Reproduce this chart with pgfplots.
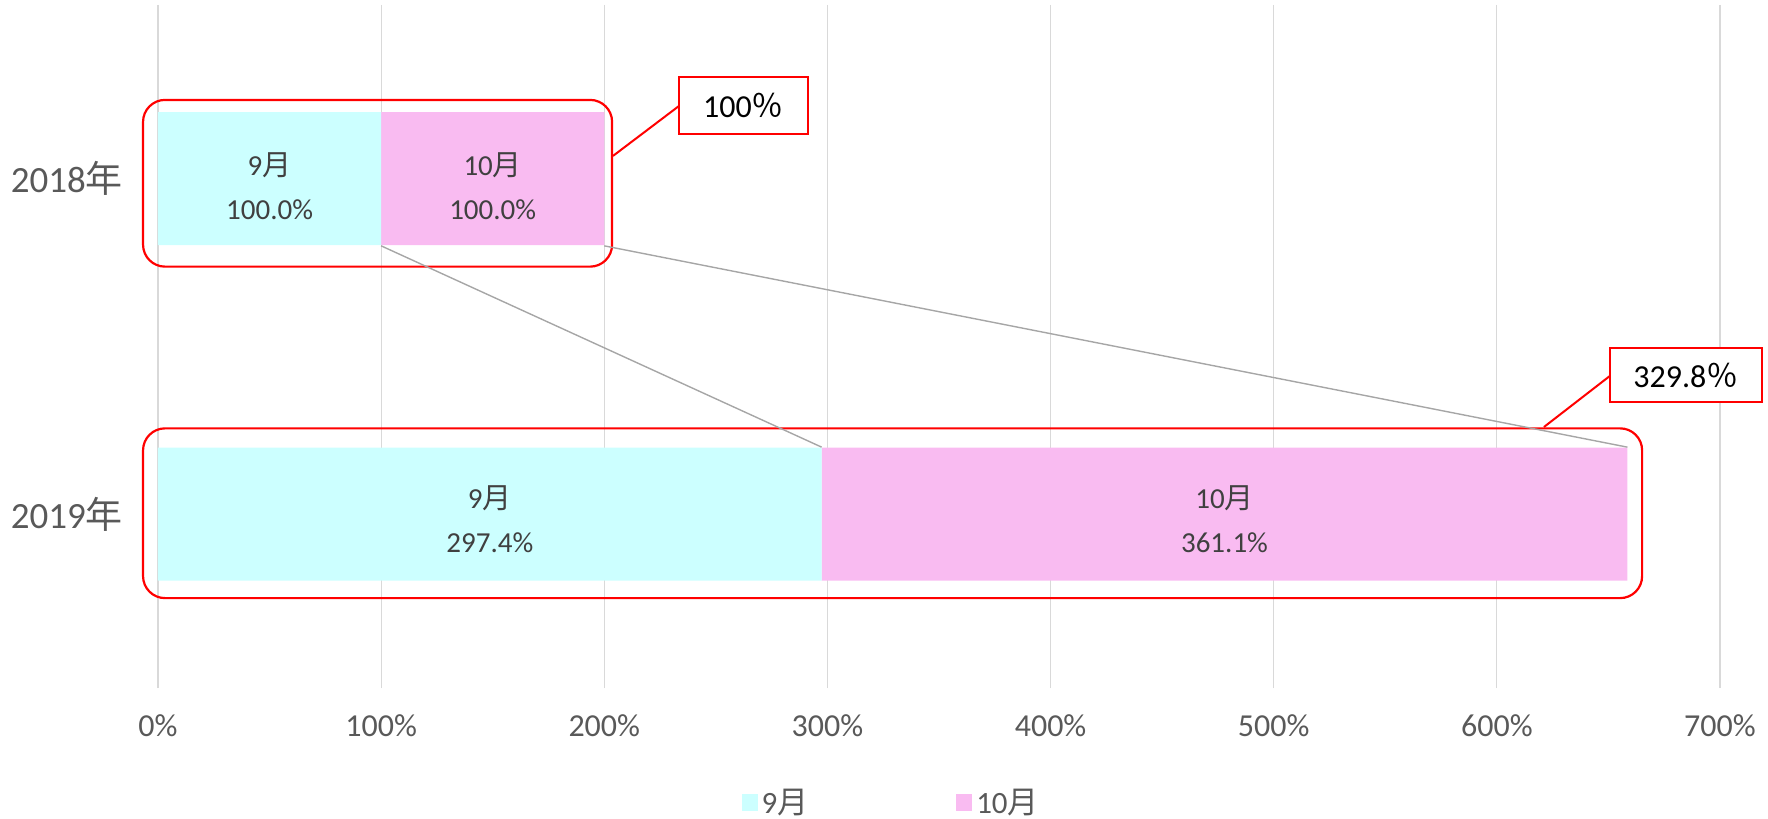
\documentclass[border=0pt]{standalone}
\usepackage{pgfplots}
\pgfplotsset{compat=1.18}
\usepackage{fontspec}
\setmainfont{Carlito}
\newfontfamily\cjk{Noto Sans CJK JP}
\definecolor{gridc}{HTML}{D9D9D9}
\definecolor{txt}{HTML}{595959}
\definecolor{lbl}{HTML}{404040}
\definecolor{sepc}{HTML}{CCFFFF}
\definecolor{octc}{HTML}{F9BBF1}
\definecolor{conn}{HTML}{A6A6A6}
\tikzset{barlbl/.style={align=center, text=lbl, font=\fontsize{14.5}{22}\selectfont}}
\begin{document}
\begin{tikzpicture}
\useasboundingbox (-79pt,-68.5pt) rectangle (805pt,341pt);
\begin{axis}[
  at={(0,0)}, anchor=south west,
  scale only axis, width=781pt, height=335.5pt,
  xbar stacked, bar width=66.5pt,
  xmin=0, xmax=700, ymin=-0.5, ymax=1.5,
  xtick={0,100,200,300,400,500,600,700},
  xticklabels={0\%,100\%,200\%,300\%,400\%,500\%,600\%,700\%},
  ytick={0,1},
  yticklabels={2019{\cjk 年},2018{\cjk 年}},
  axis line style={draw=none},
  xmajorgrids, ymajorgrids=false,
  grid style={gridc, line width=0.6pt},
  tick align=outside, major tick length=3pt,
  xtick style={gridc, line width=0.6pt},
  ytick style={draw=none},
  xticklabel style={font=\fontsize{16}{19}\selectfont, text=txt, yshift=-9.7pt},
  yticklabel style={font=\fontsize{18.5}{22}\selectfont, text=txt, xshift=-11pt},
  legend style={at={(axis description cs:0.47,-0.18)}, anchor=center, draw=none,
    legend columns=2, font=\fontsize{15.5}{18}\selectfont, text=txt,
    /tikz/every even column/.append style={column sep=72pt}},
  legend image code/.code={\fill[#1] (0pt,-4.25pt) rectangle (8pt,4.25pt);},
  clip=false,
]
\addplot[fill=sepc, draw=none] coordinates {(100,1) (297.4,0)};
\addlegendentry{9{\cjk 月}}
\addplot[fill=octc, draw=none] coordinates {(100,1) (361.1,0)};
\addlegendentry{10{\cjk 月}}
\end{axis}
\begin{axis}[
  at={(0,0)}, anchor=south west,
  scale only axis, width=781pt, height=335.5pt,
  xmin=0, xmax=700, ymin=-0.5, ymax=1.5,
  hide axis, clip=false,
]
\draw[red, line width=1.1pt, rounded corners=11pt] (axis cs:-6.7,0.738) rectangle (axis cs:203.5,1.235);
\draw[red, line width=1.1pt, rounded corners=11pt] (axis cs:-6.7,-0.25) rectangle (axis cs:665.1,0.256);
\addplot[conn, line width=0.7pt, mark=none] coordinates {(100,0.8) (297.4,0.2)};
\addplot[conn, line width=0.7pt, mark=none] coordinates {(200,0.8) (658.5,0.2)};
\node[barlbl] at (axis cs:50,0.978) {9{\cjk 月}\\100.0\%};
\node[barlbl] at (axis cs:150,0.978) {10{\cjk 月}\\100.0\%};
\node[barlbl] at (axis cs:148.7,-0.015) {9{\cjk 月}\\297.4\%};
\node[barlbl] at (axis cs:477.95,-0.015) {10{\cjk 月}\\361.1\%};
\draw[red, line width=1pt] (axis cs:203.9,1.068) -- (axis cs:233.5,1.217);
\draw[red, line width=1pt] (axis cs:651.0,0.414) -- (axis cs:621.1,0.260);
\draw[red, line width=1.1pt, fill=white] (axis cs:233.5,1.134) rectangle (axis cs:291.3,1.3036);
\node[font=\fontsize{16}{19}\selectfont] at (axis cs:262.4,1.219) {100{\cjk ％}};
\draw[red, line width=1.1pt, fill=white] (axis cs:650.7,0.334) rectangle (axis cs:718.7,0.496);
\node[font=\fontsize{16}{19}\selectfont] at (axis cs:684.7,0.415) {329.8{\cjk ％}};
\end{axis}
\end{tikzpicture}
\end{document}
